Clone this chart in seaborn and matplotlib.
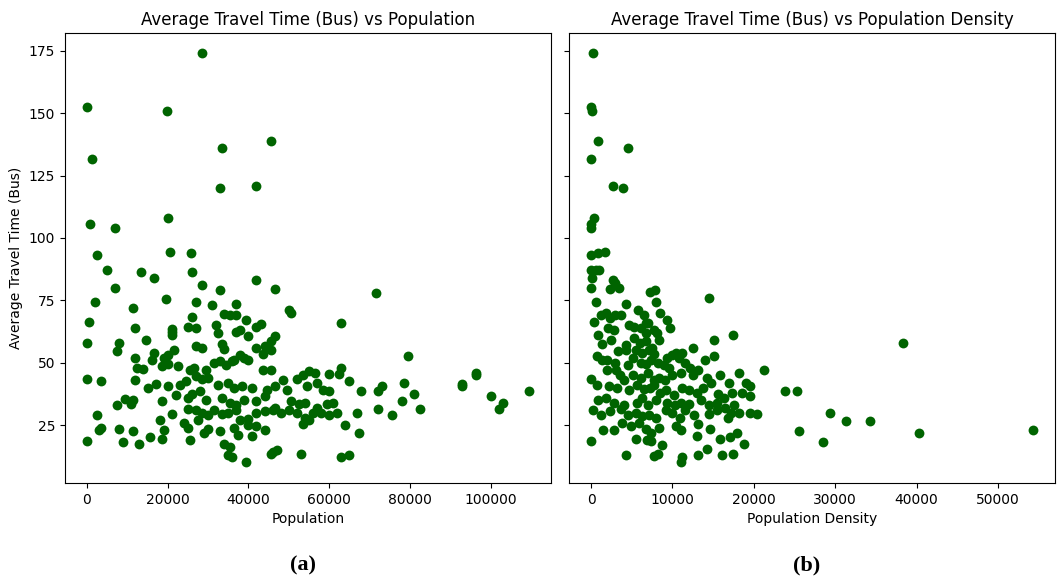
import pandas as pd
import matplotlib
matplotlib.use('Agg')
import matplotlib.pyplot as plt
import seaborn as sns

# (population, bus travel time)
pop_points = [
    (28500, 174), (0, 152.5), (19800, 151), (1200, 131.5), (33500, 136), (45500, 139),
    (33000, 120), (42000, 121), (800, 105.5), (20000, 108), (7000, 104),
    (2500, 93), (20500, 94.5), (25800, 94), (5000, 87), (13500, 86.5), (26000, 86.5),
    (16500, 84), (42000, 83), (7000, 80), (28500, 81), (46500, 79.5), (33000, 79),
    (19500, 75.5), (2000, 74.5), (27000, 74.5), (37000, 73.5),
    (11500, 72), (31000, 73), (50000, 71), (50500, 70), (71500, 78),
    (500, 66.5), (26000, 68.5), (34000, 69.5), (35500, 69), (37000, 69), (39500, 67),
    (63000, 66), (43000, 65.5), (12000, 64), (21000, 63.5), (25000, 64.5), (27000, 64),
    (32000, 65), (0, 58), (8000, 58), (14500, 59), (21000, 61), (21000, 62.5),
    (32500, 62), (37000, 62.5), (38000, 63), (40000, 60.5), (42000, 64.5), (46500, 60.5),
    (7500, 54.5), (12000, 52), (16500, 54), (19000, 52), (20000, 53), (21500, 55),
    (27000, 56.5), (28500, 56), (33500, 57.5), (34000, 55.5), (36500, 51), (38000, 53),
    (39000, 52), (42000, 56), (44000, 56.5), (45500, 58.5), (45500, 55), (43500, 53.5),
    (12500, 48), (14000, 47.5), (18500, 48.5), (16000, 51), (20000, 49.5), (22500, 48.5),
    (25500, 47), (26500, 48), (29500, 47), (31500, 50), (33000, 50.5), (34500, 49),
    (36000, 50.5), (40000, 51), (43500, 47), (45500, 47), (48500, 43), (52000, 43.5),
    (53500, 45), (55000, 46.5), (56500, 46), (60000, 45.5), (62500, 45.5), (63000, 48),
    (65000, 42.5), (79500, 52.5),
    (0, 43.5), (3500, 42.5), (12000, 43), (15000, 40), (17000, 41.5), (20000, 40.5),
    (23000, 41), (24500, 42.5), (27000, 44.5), (28500, 43.5), (30000, 44), (32500, 41),
    (35000, 42), (36500, 40), (38500, 40.5), (41000, 40), (44500, 39), (46500, 40.5),
    (49500, 39), (54500, 40.5), (57000, 42), (58500, 39), (60000, 38.5), (68000, 38.5),
    (72000, 38.5), (73000, 40.5), (78500, 42), (81000, 37.5), (93000, 41.5), (93000, 40.5),
    (96500, 45), (96500, 46), (100000, 36.5), (103000, 34), (109500, 38.5),
    (9500, 35.5), (11500, 35), (11000, 33.5), (18500, 34.5), (22000, 37), (25000, 36),
    (26000, 37.5), (28000, 38.5), (29500, 35), (33500, 36), (35500, 34), (37000, 33),
    (39000, 35), (42000, 34.5), (44000, 36.5), (46500, 32), (50500, 34.5), (52500, 33.5),
    (54000, 34), (57000, 32), (59500, 33.5), (61000, 34), (72000, 31.5), (75500, 29),
    (78000, 34.5), (82500, 31.5), (102000, 31.5),
    (2500, 29), (7500, 33), (18000, 27), (21000, 29.5), (25000, 31.5), (27000, 31),
    (28500, 30), (30000, 29), (31500, 31), (33500, 29.5), (35000, 30), (37000, 31),
    (40000, 27.5), (42000, 30), (44000, 30.5), (46000, 31), (48000, 30), (50000, 31),
    (52000, 30), (54000, 28), (56000, 30), (58000, 30), (60000, 29), (62000, 30),
    (67000, 30), (53500, 25.5), (55000, 27), (64000, 25),
    (0, 18.5), (3000, 23), (3500, 24), (8000, 23.5), (9000, 18), (11500, 22.5),
    (13000, 17.5), (15500, 20), (18500, 19.5), (19000, 23), (24000, 26), (25000, 24),
    (25500, 19), (27500, 27), (29000, 22), (30000, 23.5), (33000, 22.5), (34000, 17.5),
    (35000, 13), (36000, 12), (35500, 16), (37500, 21), (39500, 10), (41000, 20.5),
    (42000, 24.5), (44000, 23), (45500, 13.5), (46000, 14), (47000, 15), (53000, 13.5),
    (63000, 12), (65000, 13), (67500, 22), (36500, 24), (38000, 27), (40000, 25),
]

# (population density, bus travel time)
dens_points = [
    (300, 174), (0, 152.5), (100, 151), (0, 131.5), (800, 139), (4600, 136),
    (2700, 121), (3900, 120), (400, 108), (0, 105.5), (0, 104),
    (0, 93), (800, 94), (1700, 94.5), (0, 87), (600, 87), (1000, 87),
    (100, 84), (2700, 83), (3000, 82), (3400, 80), (0, 80), (2300, 79.5),
    (7300, 78.5), (7900, 79), (14500, 76), (600, 74.5), (4300, 73.5), (8000, 74.5),
    (1200, 69), (1800, 70), (3000, 69), (3700, 69), (5800, 71), (6500, 69),
    (8500, 70), (9300, 67), (6800, 66), (400, 66.5), (2300, 68),
    (2100, 64), (2800, 63), (4700, 65), (5300, 64.5), (6100, 64), (7000, 66),
    (8100, 62), (9700, 64), (6700, 62), (7700, 63),
    (800, 61), (2500, 59), (1400, 57.5), (4300, 57), (5300, 60), (6000, 58),
    (6800, 58.5), (7500, 56), (8400, 59), (15100, 59), (17500, 61), (12500, 56),
    (3300, 54.5), (4300, 55), (5500, 55), (6300, 54), (7100, 55), (7800, 53.5),
    (9300, 52), (10500, 54), (11200, 54), (15100, 52.5), (10000, 53), (10800, 52),
    (700, 52.5), (1300, 51),
    (2000, 51), (3000, 50), (4500, 49), (5200, 52), (6100, 50), (6700, 49.5),
    (7400, 51), (8200, 50), (9000, 49), (9600, 48), (12200, 48), (13200, 47),
    (18200, 46), (21200, 47), (14000, 51), (11500, 50),
    (0, 43.5), (700, 41), (2000, 47), (3100, 47), (3600, 45), (4100, 43),
    (5200, 45), (6200, 44), (7000, 46), (7700, 43), (8300, 44), (9100, 43),
    (10000, 45), (11000, 46), (12500, 45), (14200, 44), (15800, 45), (17000, 42),
    (19000, 42), (19500, 40.5), (14800, 42),
    (2200, 40.5), (3200, 40), (4700, 39), (5700, 41), (6500, 39.5), (7200, 40),
    (7800, 41), (8500, 38), (9200, 39), (10200, 37), (11200, 40), (12100, 39),
    (13000, 38), (13800, 40), (15600, 37.5), (16400, 36), (17300, 38), (18500, 38),
    (19500, 36.5), (23800, 38.5), (25300, 38.5), (38300, 58),
    (800, 35), (1800, 36), (2800, 34), (4000, 33), (5600, 34), (6300, 36),
    (7000, 33), (8000, 35), (9300, 34), (10300, 33), (11000, 34), (12100, 33.5),
    (13500, 35), (14500, 33), (15500, 34), (16500, 32), (17600, 33), (18200, 30),
    (19500, 30), (20400, 29.5), (29400, 30), (31300, 26.5),
    (200, 31), (1200, 29), (2300, 30.5), (3700, 31.5), (4600, 29), (5500, 30),
    (6300, 28.5), (7100, 29), (8000, 28), (9200, 31), (10000, 30), (10900, 28),
    (11500, 31), (12700, 29), (14500, 29.5), (15500, 31), (16800, 28), (17200, 30),
    (34300, 26.5), (40300, 22),
    (1500, 23), (2800, 23), (3800, 26), (4900, 24.5), (5900, 26), (6700, 23.5),
    (7400, 22), (8400, 24), (10400, 24.5), (11000, 23), (13100, 25.5), (14600, 23.5),
    (18000, 22), (25500, 22.5), (28500, 18), (54300, 23),
    (0, 18.5), (5500, 19.5), (6900, 19), (7400, 18.5), (8700, 17), (13000, 20.5),
    (15800, 19.5), (17100, 20), (18800, 17.5),
    (4300, 13), (7700, 12.5), (8200, 13.5), (11000, 10), (11200, 12), (13100, 13),
    (14300, 15.5), (16100, 13), (17400, 13.5),
]

df_pop = pd.DataFrame(pop_points, columns=['Population', 'Bus'])
df_dens = pd.DataFrame(dens_points, columns=['Density', 'Bus'])

fig, axes = plt.subplots(1, 2, figsize=(10.64, 5.79), dpi=100, sharey=True)
fig.subplots_adjust(left=0.061, right=0.9915, top=0.943, bottom=0.166, wspace=0.037)

sns.scatterplot(data=df_pop, x='Population', y='Bus', color='darkgreen',
                s=50, linewidth=0, ax=axes[0])
axes[0].set_title('Average Travel Time (Bus) vs Population')
axes[0].set_xlabel('Population')
axes[0].set_ylabel('Average Travel Time (Bus)')

sns.scatterplot(data=df_dens, x='Density', y='Bus', color='darkgreen',
                s=50, linewidth=0, ax=axes[1])
axes[1].set_title('Average Travel Time (Bus) vs Population Density')
axes[1].set_xlabel('Population Density')
axes[1].set_ylabel('')

# sub-figure captions
fig.text(0.285, 0.0225, '(a)', ha='center', va='center', fontsize=16, fontweight='bold',
         family=['Liberation Serif', 'DejaVu Serif'])
fig.text(0.758, 0.0225, '(b)', ha='center', va='center', fontsize=16, fontweight='bold',
         family=['Liberation Serif', 'DejaVu Serif'])

plt.savefig('out.png')
